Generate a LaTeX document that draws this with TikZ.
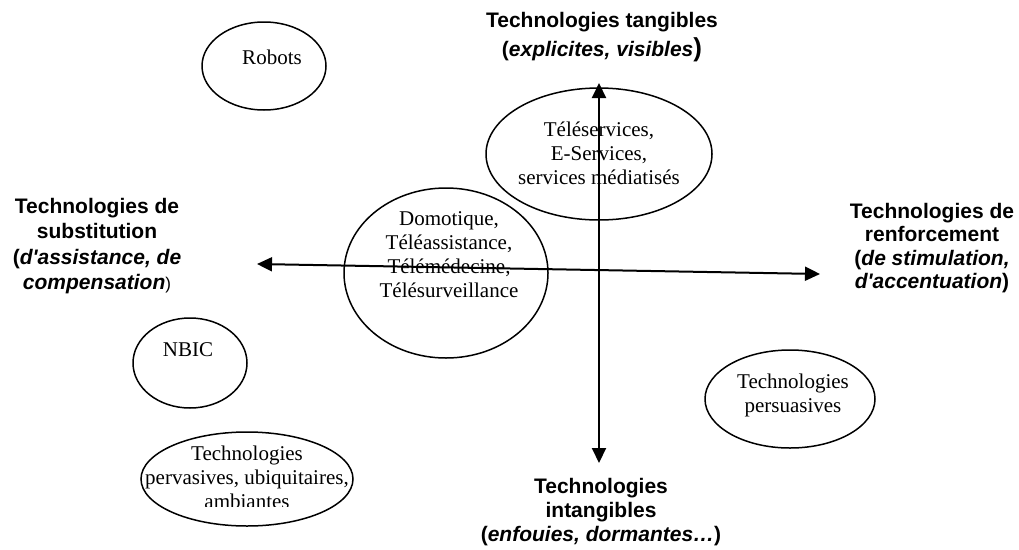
\documentclass[tikz,border=0pt]{standalone}
\usepackage{fontspec}
\setmainfont{Liberation Serif}
\setsansfont{Liberation Sans}
\usetikzlibrary{arrows.meta}
\usetikzlibrary{shapes.geometric}
\usetikzlibrary{positioning}

\tikzset{
  oval/.style={draw,ellipse,line width=1.5pt,inner sep=0pt},
  techtext/.style={align=center,font=\fontsize{21}{24}\selectfont},
  axislabel/.style={align=center,font=\sffamily\bfseries\fontsize{21}{24}\selectfont},
  axis/.style={line width=2pt,{Triangle[length=15pt,width=14pt]}-{Triangle[length=15pt,width=14pt]}}
}

\begin{document}
\begin{tikzpicture}[x=1pt,y=-1pt]
\useasboundingbox (0,0) rectangle (1019,549);

% the ovals
\node[oval,minimum width=124pt,minimum height=88pt] (robots) at (264,66) {};
\node[techtext] (robotstxt) at (272,57) {Robots};

\node[oval,minimum width=226pt,minimum height=132pt] (services) at (599,154) {};
\node[techtext] (servicestxt) at (599,153) {Téléservices,\\E-Services,\\services médiatisés};

\node[oval,minimum width=204pt,minimum height=170pt] (domotique) at (446,273) {};
\node[techtext] (domotiquetxt) at (449,255) {Domotique,\\Téléassistance,\\Télémédecine,\\Télésurveillance};

\node[oval,minimum width=114pt,minimum height=90pt] (nbic) at (190,363) {};
\node[techtext] (nbictxt) at (188,350) {NBIC};

\node[oval,minimum width=212pt,minimum height=94pt] (pervasives) at (247,479) {};
\begin{scope}
\clip (140,430) rectangle (360,506);
\node[techtext] (pervasivestxt) at (247,477) {Technologies\\pervasives, ubiquitaires,\\ambiantes};
\end{scope}

\node[oval,minimum width=170pt,minimum height=98pt] (persuasives) at (790,399) {};
\node[techtext] (persuasivestxt) at (793,395) {Technologies\\persuasives};

% the two axes
\coordinate (top) at (599,83);
\coordinate (bottom) at (599,463);
\coordinate (left) at (257,264);
\coordinate (right) at (820,274);
\draw[axis] (bottom) -- (top);
\draw[axis] (left) -- (right);

% axis labels
\node[axislabel] (tangibles) at (602,37) {Technologies tangibles\\[5pt](\textit{explicites, visibles}{\fontsize{26}{24}\selectfont )}};
\node[axislabel] (intangibles) at (601,512) {Technologies\\intangibles\\(\textit{enfouies, dormantes\dots})};
\node[axislabel,font=\sffamily\bfseries\fontsize{21}{25.3}\selectfont] (substitution) at (97,246) {Technologies de\\substitution\\(\textit{d\textquotesingle assistance, de}\\\textit{compensation}{\mdseries\fontsize{17}{24}\selectfont )}};
\node[axislabel,font=\sffamily\bfseries\fontsize{21}{23.2}\selectfont] (renforcement) at (932,248) {Technologies de\\renforcement\\(\textit{de stimulation,}\\\textit{d\textquotesingle accentuation})};

\end{tikzpicture}
\end{document}
